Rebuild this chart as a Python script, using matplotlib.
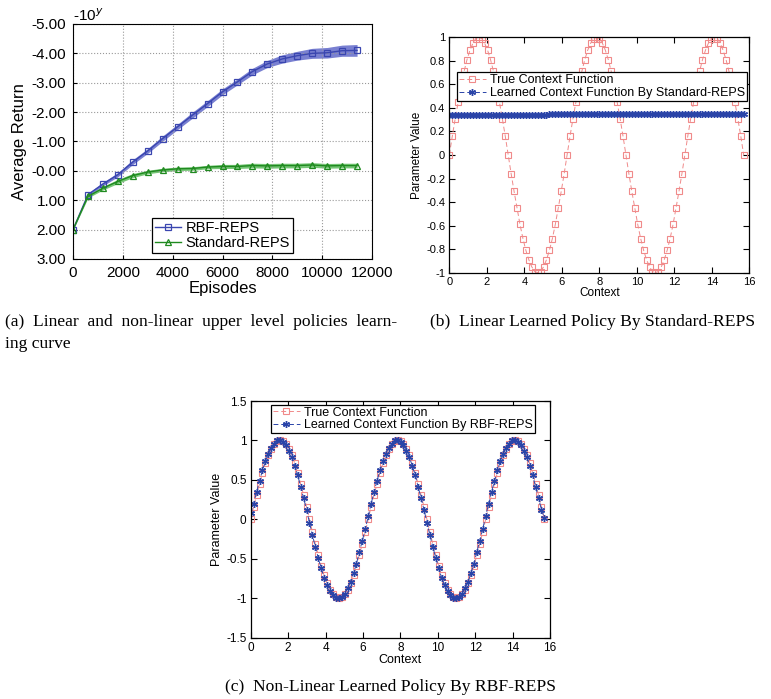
import matplotlib
matplotlib.use("Agg")
import matplotlib.pyplot as plt
import numpy as np

plt.rcParams["font.family"] = ["Liberation Sans", "DejaVu Sans"]

# ---- (a) learning curves ----
episodes = [0, 600, 1200, 1800, 2400, 3000, 3600, 4200, 4800, 5400,
            6000, 6600, 7200, 7800, 8400, 9000, 9600, 10200, 10800, 11400]
rbf_return = [2.00, 0.81, 0.45, 0.13, -0.30, -0.68, -1.10, -1.50, -1.90, -2.29,
              -2.69, -3.03, -3.38, -3.64, -3.81, -3.92, -4.00, -4.02, -4.09, -4.10]
rbf_err = [0.02, 0.05, 0.06, 0.07, 0.08, 0.08, 0.09, 0.09, 0.10, 0.10,
           0.10, 0.10, 0.11, 0.12, 0.14, 0.15, 0.17, 0.18, 0.19, 0.20]
std_return = [2.00, 0.87, 0.59, 0.36, 0.16, 0.04, -0.03, -0.07, -0.08, -0.13,
              -0.15, -0.15, -0.18, -0.17, -0.18, -0.18, -0.20, -0.17, -0.18, -0.18]
std_err = [0.02, 0.05, 0.06, 0.07, 0.07, 0.06, 0.06, 0.06, 0.06, 0.06,
           0.07, 0.07, 0.08, 0.08, 0.08, 0.08, 0.08, 0.08, 0.08, 0.08]
a_yticks = [-5, -4, -3, -2, -1, 0, 1, 2, 3]
a_yticklabels = ["-5.00", "-4.00", "-3.00", "-2.00", "-1.00", "-0.00", "1.00", "2.00", "3.00"]
a_xticks = [0, 2000, 4000, 6000, 8000, 10000, 12000]

# ---- (b), (c) context functions ----
half_up = [0.00, 0.16, 0.31, 0.45, 0.59, 0.71, 0.81, 0.89, 0.95, 0.99,
           1.00, 0.99, 0.95, 0.89, 0.81, 0.71, 0.59, 0.45, 0.31, 0.16]
half_down = [0.00, -0.16, -0.31, -0.45, -0.59, -0.71, -0.81, -0.89, -0.95, -0.99,
             -1.00, -0.99, -0.95, -0.89, -0.81, -0.71, -0.59, -0.45, -0.31, -0.16]
true_context = half_up + half_down + half_up + half_down + half_up + [0.00]
learned_standard = [0.340] * 34 + [0.345] * 33 + [0.350] * 34
learned_rbf = [0.08, 0.20, 0.35, 0.49, 0.62, 0.74, 0.83, 0.91, 0.96, 1.00,
               1.00, 0.98, 0.94, 0.87, 0.79, 0.68, 0.56, 0.41, 0.27, 0.12,
               -0.04, -0.20, -0.35, -0.49, -0.62, -0.74, -0.83, -0.91, -0.96, -1.00,
               -1.00, -0.98, -0.94, -0.87, -0.79, -0.68, -0.56, -0.41, -0.27, -0.12,
               0.04, 0.20, 0.35, 0.49, 0.62, 0.74, 0.83, 0.91, 0.96, 1.00,
               1.00, 0.98, 0.94, 0.87, 0.79, 0.68, 0.56, 0.41, 0.27, 0.12,
               -0.04, -0.20, -0.35, -0.49, -0.62, -0.74, -0.83, -0.91, -0.96, -1.00,
               -1.00, -0.98, -0.94, -0.87, -0.79, -0.68, -0.56, -0.41, -0.27, -0.12,
               0.04, 0.20, 0.35, 0.49, 0.62, 0.74, 0.83, 0.91, 0.96, 1.00,
               1.00, 0.98, 0.94, 0.87, 0.79, 0.68, 0.56, 0.41, 0.27, 0.12,
               0.02]
context = np.linspace(0, 15.7, len(true_context))

RED = "#f08a8a"
BLUE = "#2a44a8"


def gnuplot_axes(ax):
    ax.tick_params(direction="in", top=True, right=True, length=4, labelsize=8, pad=3)
    for s in ax.spines.values():
        s.set_linewidth(0.9)


fig = plt.figure(figsize=(7.71, 6.99), dpi=100)

# ---------- panel (a) ----------
ax = fig.add_axes([0.0947, 0.6295, 0.3878, 0.3362])
ep = np.array(episodes)
ax.fill_between(ep, np.array(rbf_return) - rbf_err, np.array(rbf_return) + rbf_err,
                color="#6a72cc", alpha=0.9, lw=0)
ax.fill_between(ep, np.array(std_return) - std_err, np.array(std_return) + std_err,
                color="#66c066", alpha=0.9, lw=0)
ax.plot(ep, rbf_return, color="#3a46b0", lw=1.0, marker="s", ms=5,
        mfc="none", mec="#3a46b0", mew=0.9, label="RBF-REPS")
ax.plot(ep, std_return, color="#1f8a1f", lw=1.0, marker="^", ms=5,
        mfc="none", mec="#1f8a1f", mew=0.9, label="Standard-REPS")
ax.set_xlim(0, 12000)
ax.set_ylim(3, -5)
ax.set_xticks(a_xticks)
ax.set_yticks(a_yticks)
ax.set_yticklabels(a_yticklabels)
ax.grid(True, color="#999999", linestyle=":", linewidth=0.8)
ax.tick_params(direction="in", length=3, labelsize=11, pad=5)
ax.set_xlabel("Episodes", fontsize=12, labelpad=1)
ax.set_ylabel("Average Return", fontsize=12, labelpad=3)
ax.text(0.0, 1.0, r"-10$^{y}$", transform=ax.transAxes, fontsize=11,
        ha="left", va="bottom")
leg = ax.legend(loc="lower center", bbox_to_anchor=(0.5, 0.025), fontsize=10.5,
                fancybox=False, edgecolor="black", framealpha=1,
                handlelength=1.8, handletextpad=0.3, borderpad=0.2,
                labelspacing=0.1, borderaxespad=0)
leg.get_frame().set_linewidth(0.9)

# ---------- panel (b) ----------
bx = fig.add_axes([0.5828, 0.6099, 0.3891, 0.3367])
bx.plot(context, true_context, color=RED, lw=0.7, ls=(0, (5, 3)), marker="s", ms=4.5,
        mfc="none", mec=RED, mew=0.8, label="True Context Function")
bx.plot(context, learned_standard, color=BLUE, lw=0.7, ls=(0, (5, 3)), marker=(6, 2, 0),
        ms=5, mec=BLUE, mew=1.0, label="Learned Context Function By Standard-REPS")
bx.set_xlim(0, 16)
bx.set_ylim(-1, 1)
bx.set_xticks(range(0, 17, 2))
bx.set_yticks([-1, -0.8, -0.6, -0.4, -0.2, 0, 0.2, 0.4, 0.6, 0.8, 1])
bx.set_yticklabels(["-1", "-0.8", "-0.6", "-0.4", "-0.2", "0", "0.2", "0.4", "0.6", "0.8", "1"])
gnuplot_axes(bx)
bx.set_xlabel("Context", fontsize=8.5, labelpad=0)
bx.set_ylabel("Parameter Value", fontsize=8.5, labelpad=2)
leg = bx.legend(loc="upper left", bbox_to_anchor=(0.025, 0.851), fontsize=9,
                fancybox=False, edgecolor="black", framealpha=1,
                handlelength=2.2, handletextpad=0.3, borderpad=0.15,
                labelspacing=0.05, borderaxespad=0)
leg.get_frame().set_linewidth(0.9)

# ---------- panel (c) ----------
cx = fig.add_axes([0.3252, 0.0877, 0.3882, 0.3386])
cx.plot(context, true_context, color=RED, lw=0.7, ls=(0, (5, 3)), marker="s", ms=4.5,
        mfc="none", mec=RED, mew=0.8, label="True Context Function")
cx.plot(context, learned_rbf, color=BLUE, lw=0.7, ls=(0, (5, 3)), marker=(6, 2, 0),
        ms=5, mec=BLUE, mew=1.0, label="Learned Context Function By RBF-REPS")
cx.set_xlim(0, 16)
cx.set_ylim(-1.5, 1.5)
cx.set_xticks(range(0, 17, 2))
cx.set_yticks([-1.5, -1, -0.5, 0, 0.5, 1, 1.5])
cx.set_yticklabels(["-1.5", "-1", "-0.5", "0", "0.5", "1", "1.5"])
gnuplot_axes(cx)
cx.tick_params(labelsize=8.5)
cx.set_xlabel("Context", fontsize=9, labelpad=0)
cx.set_ylabel("Parameter Value", fontsize=9, labelpad=2)
leg = cx.legend(loc="upper left", bbox_to_anchor=(0.067, 0.984), fontsize=9,
                fancybox=False, edgecolor="black", framealpha=1,
                handlelength=2.2, handletextpad=0.3, borderpad=0.15,
                labelspacing=0.05, borderaxespad=0)
leg.get_frame().set_linewidth(0.9)

# ---------- captions ----------
cap = dict(family=["Liberation Serif", "DejaVu Serif"], fontsize=12.6)
fig.text(0.0065, 0.5398, "(a)  Linear  and  non-linear  upper  level  policies  learn-",
         va="center", ha="left", **cap)
fig.text(0.0065, 0.5085, "ing curve", va="center", ha="left", **cap)
fig.text(0.558, 0.5398, "(b)  Linear Learned Policy By Standard-REPS",
         va="center", ha="left", **cap)
fig.text(0.507, 0.017, "(c)  Non-Linear Learned Policy By RBF-REPS",
         va="center", ha="center", **cap)

fig.savefig("out.png", dpi=100)
